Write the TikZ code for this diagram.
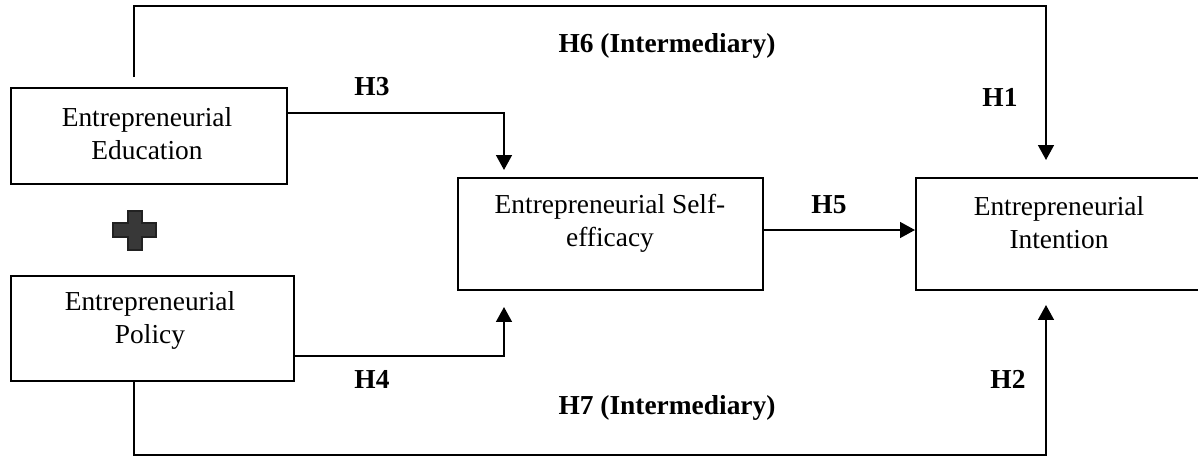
\documentclass[tikz,border=0pt]{standalone}
\usepackage{fontspec}
\setmainfont{Liberation Serif}
\usetikzlibrary{arrows.meta,calc}
\definecolor{plusfill}{RGB}{56,56,56}
\definecolor{plusedge}{RGB}{34,34,34}
\begin{document}
\begin{tikzpicture}[x=0.02cm,y=-0.02cm,
  box/.style={draw,line width=1.1pt,inner sep=0pt,anchor=north west},
  txt/.style={align=center,inner sep=0pt,font=\fontsize{15.6pt}{18.7pt}\selectfont},
  lab/.style={anchor=base,inner sep=0pt,font=\fontsize{15.6pt}{18.7pt}\selectfont\bfseries},
  conn/.style={line width=1.1pt},
  arr/.style={line width=1.1pt,-{Triangle[length=8.5pt,width=9pt]}}]
\clip (0,0) rectangle (1198,457);
% boxes
\node[box,minimum width=5.52cm,minimum height=1.92cm] (edu) at (10,87) {};
\node[box,minimum width=5.66cm,minimum height=2.1cm] (pol) at (10,275) {};
\node[box,minimum width=6.1cm,minimum height=2.24cm] (se) at (457,177) {};
\node[box,minimum width=5.8cm,minimum height=2.24cm] (int) at (915,177) {};
% box texts
\node[txt] (edut) at (147,133.5) {Entrepreneurial\\Education};
\node[txt] (polt) at (150,320.5) {Entrepreneurial\\Policy};
\node[txt] (set) at (610,223.5) {Entrepreneurial Self-\\efficacy};
\node[txt] (intt) at (1059,223) {Entrepreneurial\\Intention};
% plus sign
\fill[plusfill,draw=plusedge,line width=0.6pt]
  (128,211) -- (142,211) -- (142,223) -- (156,223) -- (156,237) -- (142,237)
  -- (142,250) -- (128,250) -- (128,237) -- (113,237) -- (113,223) -- (128,223) -- cycle;
% connector end points
\coordinate (h6s) at (134,77);
\coordinate (h1e) at (1046,160);
\coordinate (h3e) at (504,170);
\coordinate (h4e) at (504,307);
\coordinate (h2e) at (1046,305);
\coordinate (h7c) at (134,455);
% connectors
\draw[arr] (h6s) |- (1046,6) -- (h1e);
\draw[arr] ($(edu.north east)+(0,26)$) -| (h3e);
\draw[arr] ($(pol.north east)+(0,81)$) -| (h4e);
\draw[arr] ($(se.north east)+(0,53)$) -- ($(int.north west)+(0,53)$);
\draw[arr] (pol.south -| h7c) -- (h7c) -| (h2e);
% labels
\node[lab] (l6) at (667,52) {H6 (Intermediary)};
\node[lab] (l3) at (372,95) {H3};
\node[lab] (l1) at (1000,106) {H1};
\node[lab] (l5) at (829,213) {H5};
\node[lab] (l4) at (372,388) {H4};
\node[lab] (l2) at (1008,388) {H2};
\node[lab] (l7) at (667,414) {H7 (Intermediary)};
\end{tikzpicture}
\end{document}
